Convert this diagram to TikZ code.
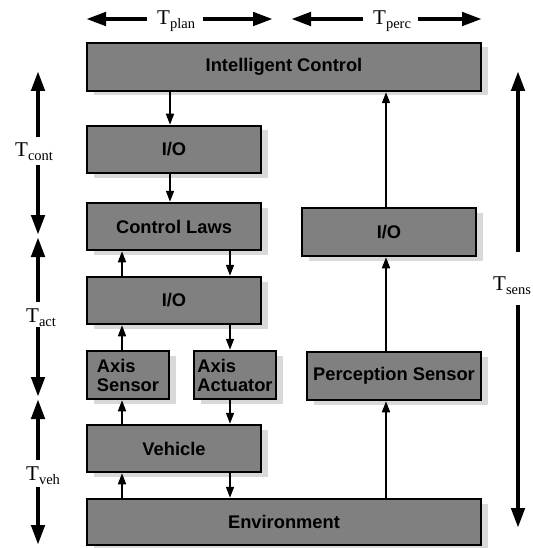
\documentclass[tikz,border=0pt]{standalone}
\usepackage{fontspec}
\setmainfont{Liberation Serif}
\newfontfamily\boxfont{Liberation Sans}
\usetikzlibrary{arrows.meta,shadows}
\definecolor{boxgray}{HTML}{808080}
\definecolor{shadowgray}{HTML}{D9D9D9}
\newcommand\Tsub[1]{T\raisebox{-4pt}{\fontsize{14.5}{15}\selectfont #1}}
\begin{document}
\begin{tikzpicture}[x=1pt,y=-1pt,
  box/.style={draw, line width=2.5pt, fill=boxgray, inner sep=0pt,
    font=\boxfont\bfseries\fontsize{18.3}{19}\selectfont,
    drop shadow={shadow xshift=6.5pt, shadow yshift=-4.5pt, fill=shadowgray, opacity=1}},
  flow/.style={line width=1.6pt, -{Triangle[length=11pt,width=8pt]}},
  timing/.style={line width=4.5pt, -{Triangle[length=20pt,width=13pt]}},
  tlabel/.style={inner sep=0pt, anchor=base west, font=\fontsize{21}{22}\selectfont}]
\useasboundingbox (0,0) rectangle (532,548);

% boxes
\node[box, minimum width=394pt, minimum height=48pt] (IC) at (284,67) {Intelligent Control};
\node[box, minimum width=174pt, minimum height=47pt] (IO1) at (174,149.5) {I/O};
\node[box, minimum width=174pt, minimum height=47pt] (CL) at (174,226.5) {Control Laws};
\node[box, minimum width=174pt, minimum height=47pt] (IO2) at (174,300.5) {I/O};
\node[box, minimum width=82pt, minimum height=48pt, align=left] (AS) at (128,375) {Axis\\Sensor};
\node[box, minimum width=82pt, minimum height=48pt, align=left] (AA) at (235,375) {Axis\\Actuator};
\node[box, minimum width=174pt, minimum height=47pt] (VE) at (174,448.5) {Vehicle};
\node[box, minimum width=394pt, minimum height=46pt] (EN) at (284,522) {Environment};
\node[box, minimum width=174pt, minimum height=48pt] (IO3) at (389,232) {I/O};
\node[box, minimum width=174pt, minimum height=48pt] (PS) at (394,376) {Perception Sensor};

% column positions for connectors
\coordinate (cM) at (170,0);
\coordinate (cL) at (122,0);
\coordinate (cR) at (230,0);
\coordinate (cP) at (386,0);

\draw[flow] (IC.south -| cM) -- (IO1.north -| cM);
\draw[flow] (IO1.south -| cM) -- (CL.north -| cM);
\draw[flow] (IO2.north -| cL) -- (CL.south -| cL);
\draw[flow] (CL.south -| cR) -- (IO2.north -| cR);
\draw[flow] (AS.north -| cL) -- (IO2.south -| cL);
\draw[flow] (IO2.south -| cR) -- (AA.north -| cR);
\draw[flow] (VE.north -| cL) -- (AS.south -| cL);
\draw[flow] (AA.south -| cR) -- (VE.north -| cR);
\draw[flow] (EN.north -| cL) -- (VE.south -| cL);
\draw[flow] (VE.south -| cR) -- (EN.north -| cR);
\draw[flow] (EN.north -| cP) -- (PS.south -| cP);
\draw[flow] (PS.north -| cP) -- (IO3.south -| cP);
\draw[flow] (IO3.north -| cP) -- (IC.south -| cP);

% timing labels
\node[tlabel] (Tplan) at (157,25) {\Tsub{plan}};
\node[tlabel] (Tperc) at (373,25) {\Tsub{perc}};
\node[tlabel] (Tcont) at (15,157) {\Tsub{cont}};
\node[tlabel] (Tact) at (26,322) {\Tsub{act}};
\node[tlabel] (Tveh) at (26,480) {\Tsub{veh}};
\node[tlabel] (Tsens) at (493,290) {\Tsub{sens}};

% timing arrow ends
\coordinate (pl1) at (147,19); \coordinate (pl1t) at (86,19);
\coordinate (pl2) at (203,19); \coordinate (pl2t) at (273,19);
\coordinate (pe1) at (363,19); \coordinate (pe1t) at (291,19);
\coordinate (pe2) at (418,19); \coordinate (pe2t) at (482,19);
\draw[timing] (pl1) -- (pl1t);
\draw[timing] (pl2) -- (pl2t);
\draw[timing] (pe1) -- (pe1t);
\draw[timing] (pe2) -- (pe2t);

\coordinate (l1) at (38,137); \coordinate (l1t) at (38,71);
\coordinate (l2) at (38,165); \coordinate (l2t) at (38,235);
\coordinate (l3) at (38,302); \coordinate (l3t) at (38,237);
\coordinate (l4) at (38,327); \coordinate (l4t) at (38,397);
\coordinate (l5) at (38,460); \coordinate (l5t) at (38,399);
\coordinate (l6) at (38,487); \coordinate (l6t) at (38,545);
\draw[timing] (l1) -- (l1t);
\draw[timing] (l2) -- (l2t);
\draw[timing] (l3) -- (l3t);
\draw[timing] (l4) -- (l4t);
\draw[timing] (l5) -- (l5t);
\draw[timing] (l6) -- (l6t);

\coordinate (r1) at (518,252); \coordinate (r1t) at (518,71);
\coordinate (r2) at (518,305); \coordinate (r2t) at (518,528);
\draw[timing] (r1) -- (r1t);
\draw[timing] (r2) -- (r2t);
\end{tikzpicture}
\end{document}
